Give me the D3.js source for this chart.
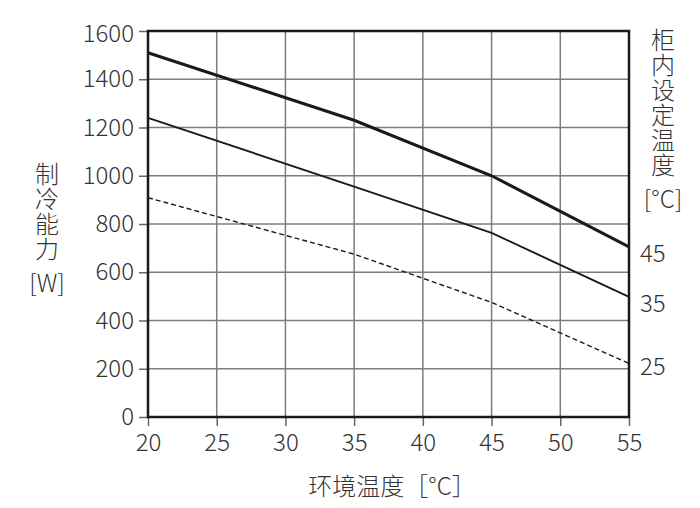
<!DOCTYPE html>
<html>
<head>
<meta charset="utf-8">
<script src="https://d3js.org/d3.v7.min.js"></script>
<style>
  body { margin: 0; background: #fff; }
  text { font-family: "Noto Sans CJK SC", "Noto Sans", sans-serif; font-weight: 300; fill: #333; }
</style>
</head>
<body>
<script>
// ambient temperature (x) and cooling capacity (W) for each cabinet setpoint
var ambient = [20, 35, 45, 55];
var cap45 = [1510, 1230, 1000, 705];
var cap35 = [1240, 955, 763, 498];
var cap25 = [909, 675, 475, 222];
var setpoints = ["45", "35", "25"];
var xTicks = [20, 25, 30, 35, 40, 45, 50, 55];
var yTicks = [0, 200, 400, 600, 800, 1000, 1200, 1400, 1600];

var width = 700, height = 508;
var pL = 148, pR = 629, pT = 31, pB = 417;
var fs = "24px";

var svg = d3.select("body").append("svg")
    .attr("width", width)
    .attr("height", height);

var x = d3.scaleLinear().domain([20, 55]).range([pL, pR]);
var y = d3.scaleLinear().domain([0, 1600]).range([pB, pT]);

// grid
var grid = svg.append("g").attr("stroke", "#7d7d7d").attr("stroke-width", 1.5);
grid.selectAll(".gx").data(xTicks.slice(1, -1)).enter().append("line")
    .attr("x1", d => x(d)).attr("x2", d => x(d))
    .attr("y1", pT).attr("y2", pB);
grid.selectAll(".gy").data(yTicks.slice(1, -1)).enter().append("line")
    .attr("y1", d => y(d)).attr("y2", d => y(d))
    .attr("x1", pL).attr("x2", pR);

// axes with outward ticks
var xAxis = svg.append("g")
    .attr("transform", "translate(0," + pB + ")")
    .call(d3.axisBottom(x).tickValues(xTicks).tickSize(9).tickPadding(5));
var yAxis = svg.append("g")
    .attr("transform", "translate(" + pL + ",0)")
    .call(d3.axisLeft(y).tickValues(yTicks).tickFormat(d3.format("d")).tickSize(9).tickPadding(5));

[xAxis, yAxis].forEach(function (a) {
    a.attr("font-family", null).attr("font-size", null);
    a.select(".domain").remove();
    a.selectAll(".tick line").attr("stroke", "#666").attr("stroke-width", 1.5);
    a.selectAll(".tick text").style("font-size", fs).attr("fill", "#333");
});
xAxis.selectAll(".tick text").attr("dy", "0.85em");
// top label sits a little below its gridline
yAxis.selectAll(".tick text").filter(d => d === 1600).attr("dy", "0.45em");

// frame
svg.append("rect")
    .attr("x", pL).attr("y", pT)
    .attr("width", pR - pL).attr("height", pB - pT)
    .attr("fill", "none").attr("stroke", "#1a1a1a").attr("stroke-width", 2.5);

// curves
var line = d3.line().x((d, i) => x(ambient[i])).y(d => y(d));
var series = [
    { v: cap45, w: 3, dash: null },
    { v: cap35, w: 1.9, dash: null },
    { v: cap25, w: 1.4, dash: "5,3" }
];
svg.selectAll(".curve").data(series).enter().append("path")
    .attr("d", d => line(d.v))
    .attr("fill", "none")
    .attr("stroke", "#1a1a1a")
    .attr("stroke-width", d => d.w)
    .attr("stroke-dasharray", d => d.dash);

// setpoint labels at right end
svg.selectAll(".sp").data(series).enter().append("text")
    .attr("x", 640)
    .attr("y", (d, i) => y(d.v[d.v.length - 1]) + [15, 15, 12][i])
    .style("font-size", fs)
    .text((d, i) => setpoints[i]);

// vertical titles
function vtitle(str, cx, y0) {
    svg.append("text")
        .attr("x", cx).attr("y", y0)
        .style("writing-mode", "vertical-rl")
        .style("text-orientation", "upright")
        .style("letter-spacing", "1px")
        .style("font-size", fs)
        .text(str);
}
vtitle("制冷能力", 47, 162);
svg.append("text").attr("x", 47).attr("y", 281)
    .attr("text-anchor", "middle").attr("dominant-baseline", "central")
    .style("font-size", fs).text("[W]");

vtitle("柜内设定温度", 663, 28);
svg.append("text").attr("x", 663).attr("y", 197)
    .attr("text-anchor", "middle").attr("dominant-baseline", "central")
    .style("font-size", fs).text("[°C]");

// x title
svg.append("text")
    .attr("x", 392).attr("y", 484)
    .attr("text-anchor", "middle").attr("dominant-baseline", "central")
    .style("font-size", fs)
    .text("环境温度［°C］");
</script>
</body>
</html>
